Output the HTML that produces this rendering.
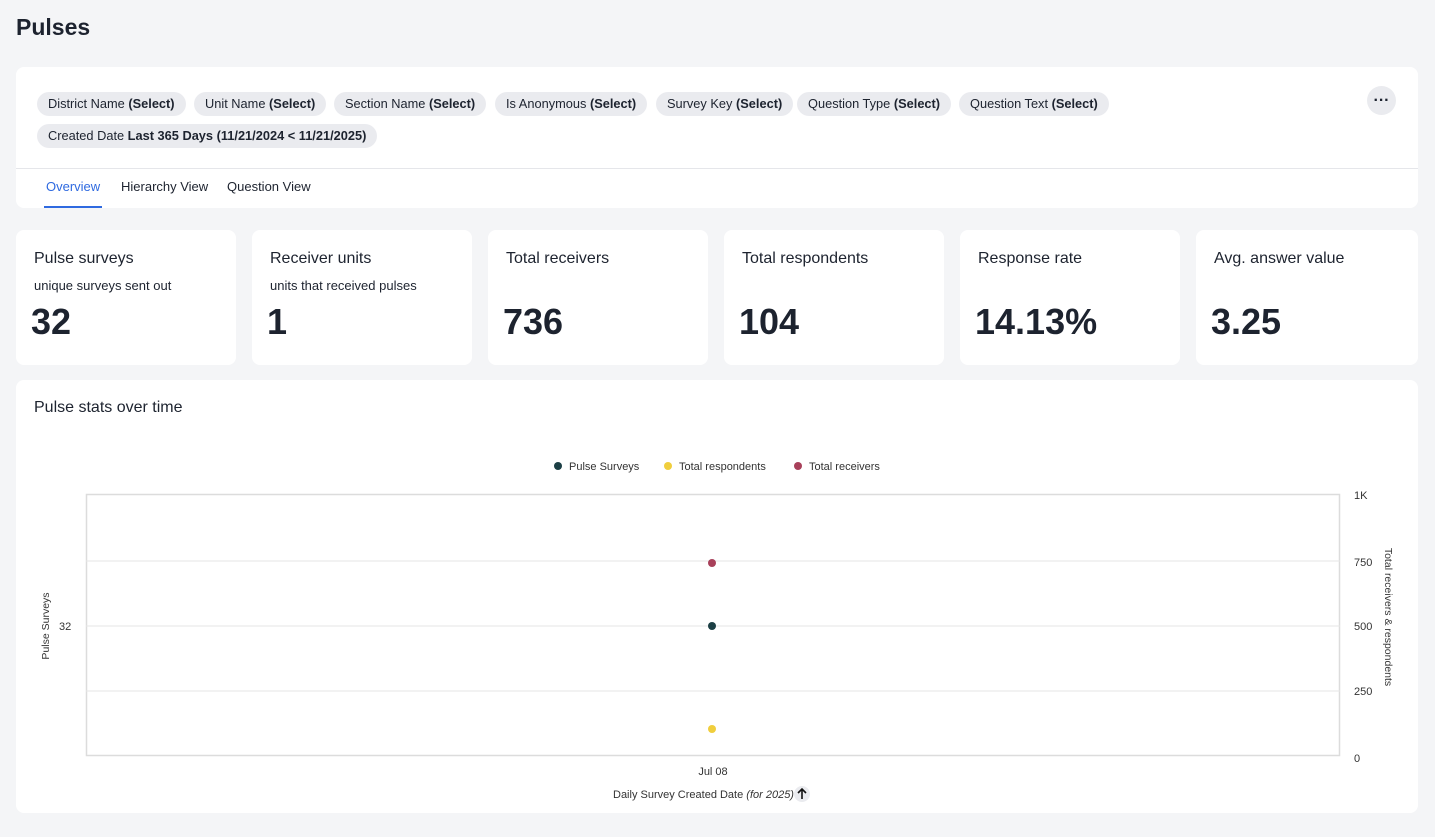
<!DOCTYPE html>
<html><head><meta charset="utf-8"><style>
*{box-sizing:border-box;margin:0;padding:0}
body{width:1435px;height:837px;background:#f4f5f7;font-family:"Liberation Sans",sans-serif;color:#1d232f;position:relative;overflow:hidden}
.abs{position:absolute}
.card{position:absolute;background:#fff;border-radius:8px}
.chip{position:absolute;height:24px;line-height:24px;background:#eaebef;border-radius:12px;font-size:12.8px;padding:0 11px;white-space:nowrap;color:#1d232f}
.chip b{font-weight:bold}
.kt{position:absolute;left:18px;top:20px;font-size:16px}
.ks{position:absolute;left:18px;top:48px;font-size:13px}
.kv{position:absolute;left:15px;top:71px;font-size:36px;font-weight:bold}
</style></head><body>
<div class="abs" style="left:16px;top:14px;font-size:23px;font-weight:bold">Pulses</div>
<div class="card" style="left:16px;top:67px;width:1402px;height:141px">
 <div class="chip" style="left:21px;top:25px">District Name <b>(Select)</b></div>
 <div class="chip" style="left:178px;top:25px">Unit Name <b>(Select)</b></div>
 <div class="chip" style="left:318px;top:25px">Section Name <b>(Select)</b></div>
 <div class="chip" style="left:479px;top:25px">Is Anonymous <b>(Select)</b></div>
 <div class="chip" style="left:640px;top:25px">Survey Key <b>(Select)</b></div>
 <div class="chip" style="left:781px;top:25px">Question Type <b>(Select)</b></div>
 <div class="chip" style="left:943px;top:25px">Question Text <b>(Select)</b></div>
 <div class="chip" style="left:21px;top:57px">Created Date <b>Last 365 Days (11/21/2024 &lt; 11/21/2025)</b></div>
 <div class="abs" style="left:1351px;top:19px;width:29px;height:29px;border-radius:50%;background:#eaebef;text-align:center;line-height:29px;font-size:16px;font-weight:bold">···</div>
 <div class="abs" style="left:0;top:101px;width:1402px;border-top:1px solid #e5e6ea"></div>
 <div class="abs" style="left:30px;top:112px;font-size:13px;color:#2f6ae0">Overview</div>
 <div class="abs" style="left:28px;top:139px;width:58px;height:2px;background:#2f6ae0"></div>
 <div class="abs" style="left:105px;top:112px;font-size:13px">Hierarchy View</div>
 <div class="abs" style="left:211px;top:112px;font-size:13px">Question View</div>
</div>
<div class="card" style="left:16px;top:230px;width:220px;height:135px"><div class="kt">Pulse surveys</div><div class="ks">unique surveys sent out</div><div class="kv">32</div></div>
<div class="card" style="left:252px;top:230px;width:220px;height:135px"><div class="kt">Receiver units</div><div class="ks">units that received pulses</div><div class="kv">1</div></div>
<div class="card" style="left:488px;top:230px;width:220px;height:135px"><div class="kt">Total receivers</div><div class="kv">736</div></div>
<div class="card" style="left:724px;top:230px;width:220px;height:135px"><div class="kt">Total respondents</div><div class="kv">104</div></div>
<div class="card" style="left:960px;top:230px;width:220px;height:135px"><div class="kt">Response rate</div><div class="kv">14.13%</div></div>
<div class="card" style="left:1196px;top:230px;width:222px;height:135px"><div class="kt">Avg. answer value</div><div class="kv">3.25</div></div>
<div class="card" style="left:16px;top:380px;width:1402px;height:433px">
 <div class="abs" style="left:18px;top:19px;font-size:16px">Pulse stats over time</div>
</div>
<svg class="abs" style="left:0;top:0" width="1435" height="837">
 <g font-family="Liberation Sans, sans-serif" font-size="11" fill="#333">
 <circle cx="558" cy="466" r="4" fill="#1c3f45"/><text x="569" y="470">Pulse Surveys</text>
 <circle cx="668" cy="466" r="4" fill="#f0ce3d"/><text x="679" y="470">Total respondents</text>
 <circle cx="798" cy="466" r="4" fill="#a8405a"/><text x="809" y="470">Total receivers</text>
 <rect x="86.5" y="494.5" width="1253" height="261" fill="none" stroke="#dcdcdc" stroke-width="1.5"/>
 <line x1="86" y1="561" x2="1340" y2="561" stroke="#e6e6e6"/>
 <line x1="86" y1="626" x2="1340" y2="626" stroke="#e6e6e6"/>
 <line x1="86" y1="691" x2="1340" y2="691" stroke="#e6e6e6"/>
 <circle cx="712" cy="563" r="4" fill="#a8405a"/>
 <circle cx="712" cy="626" r="4" fill="#1c3f45"/>
 <circle cx="712" cy="729" r="4" fill="#f0ce3d"/>
 <text x="59" y="630">32</text>
 <text transform="translate(49,626) rotate(-90)" text-anchor="middle" font-size="10.5">Pulse Surveys</text>
 <text x="1354" y="499">1K</text><text x="1354" y="566">750</text><text x="1354" y="630">500</text><text x="1354" y="695">250</text><text x="1354" y="762">0</text>
 <text transform="translate(1385,617) rotate(90)" text-anchor="middle" font-size="10.5">Total receivers &amp; respondents</text>
 <text x="713" y="775" text-anchor="middle">Jul 08</text>
 <text x="613" y="798">Daily Survey Created Date <tspan font-style="italic">(for 2025)</tspan></text>
 <circle cx="802" cy="794" r="8" fill="#eaebef"/>
 <path d="M802 799 V789 M798 793 L802 789 L806 793" stroke="#111" stroke-width="1.6" fill="none"/>
 </g>
</svg>
</body></html>
